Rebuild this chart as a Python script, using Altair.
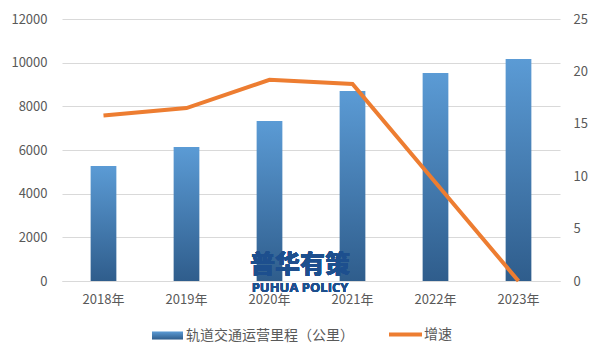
import altair as alt
import pandas as pd

years = ["2018年", "2019年", "2020年", "2021年", "2022年", "2023年"]
mileage = [5270, 6140, 7330, 8700, 9530, 10170]
growth = [15.8, 16.5, 19.2, 18.8, 9.4, 0.0]
bar_name = "轨道交通运营里程（公里）"
line_name = "增速"

df = pd.DataFrame({"year": years, "mileage": mileage, "growth": growth,
                   "bar_s": bar_name, "line_s": line_name})

FONT = "Noto Sans CJK SC"
TXT = "#595959"

x_enc = alt.X("year:N", sort=years, title=None,
              scale=alt.Scale(paddingInner=0, paddingOuter=0),
              axis=alt.Axis(labelAngle=0, ticks=False, domain=True, domainColor="#D9D9D9",
                            labelPadding=12, labelFontSize=13, labelColor=TXT, labelFont=FONT,
                            grid=False))

grad = alt.Gradient(gradient="linear",
                    stops=[alt.GradientStop(color="#5B9BD5", offset=0),
                           alt.GradientStop(color="#2F5D8C", offset=1)],
                    x1=0, x2=0, y1=0, y2=1)

bars = alt.Chart(df).mark_bar(fill=grad, width=alt.RelativeBandSize(0.31)).encode(
    x=x_enc,
    y=alt.Y("mileage:Q", title=None,
            scale=alt.Scale(domain=[0, 12000], nice=False),
            axis=alt.Axis(values=[0, 2000, 4000, 6000, 8000, 10000, 12000], grid=True,
                          gridColor="#D9D9D9", ticks=False, domain=False, labelPadding=15,
                          format="d",
                          labelFontSize=13, labelColor=TXT, labelFont=FONT,
                          minExtent=54, maxExtent=54)),
    opacity=alt.Opacity("bar_s:N", scale=alt.Scale(range=[1, 1]),
                        legend=alt.Legend(title=None, orient="none", legendX=90, legendY=301,
                                          symbolType="M-1,-0.26H1V0.26H-1Z",
                                          symbolFillColor="#3F79B5", symbolStrokeWidth=0,
                                          symbolSize=961, symbolOpacity=1, labelLimit=400,
                                          labelFontSize=14, labelColor=TXT, labelFont=FONT,
                                          labelOffset=3)),
)

line = alt.Chart(df).mark_line(strokeWidth=4).encode(
    x=x_enc,
    y=alt.Y("growth:Q", title=None,
            scale=alt.Scale(domain=[0, 25], nice=False),
            axis=alt.Axis(orient="right", values=[0, 5, 10, 15, 20, 25], grid=False,
                          ticks=False, domain=False, labelPadding=13, labelFontSize=13,
                          labelColor=TXT, labelFont=FONT, minExtent=33, maxExtent=33)),
    color=alt.Color("line_s:N", scale=alt.Scale(range=["#ED7D31"]),
                    legend=alt.Legend(title=None, orient="none", legendX=325, legendY=297,
                                      symbolType="stroke",
                                      symbolStrokeWidth=4, symbolSize=1089,
                                      labelFontSize=14, labelColor=TXT, labelFont=FONT,
                                      labelOffset=0)),
)

wm1 = alt.Chart(df).mark_text(text="普华有策", font=FONT, fontSize=25, fontWeight=900,
                              color="#1D4F8E", align="center", baseline="middle").encode(
    x=alt.value(238), y=alt.value(246))
wm2 = alt.Chart(df).mark_text(text="PUHUA POLICY", font="Open Sans", fontSize=13,
                              fontWeight="bold", color="#1D4F8E", align="center",
                              baseline="middle").encode(
    x=alt.value(238), y=alt.value(269))

chart = alt.layer(bars, line, wm1, wm2).resolve_scale(
    y="independent", opacity="independent", color="independent"
).properties(
    width=498, height=262, background="white",
    padding={"left": 0, "top": 5, "right": 0, "bottom": 0},
).configure_view(stroke=None)

chart.save("out.html", embed_options={"renderer": "svg", "actions": False})
